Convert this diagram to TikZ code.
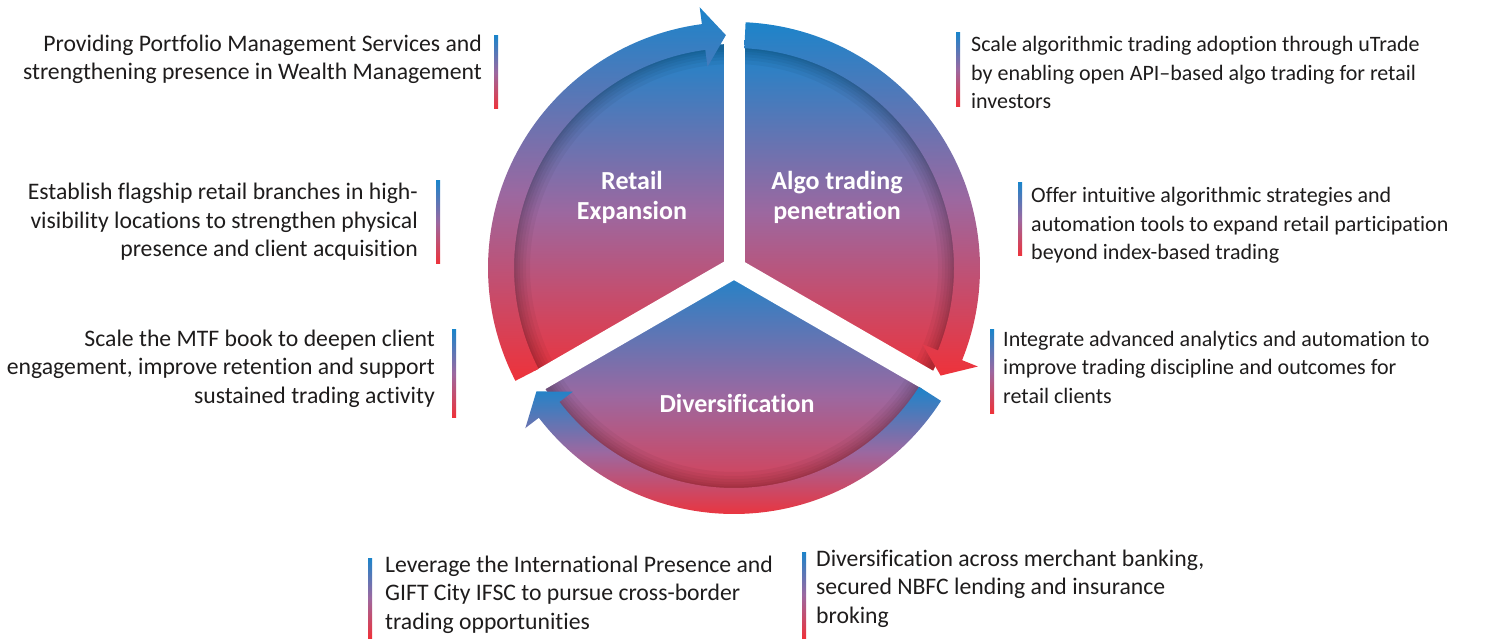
\documentclass[tikz,border=0pt]{standalone}
\usepackage{fontspec}
\setmainfont{Carlito}[Ligatures=NoCommon]
\definecolor{bl}{RGB}{28,132,202}
\definecolor{md}{RGB}{156,104,160}
\definecolor{rd}{RGB}{238,50,58}
\definecolor{ink}{RGB}{30,28,28}
\newcommand\RingArrow[3]{%
  \shade[grad] (#1:246) arc[start angle=#1, end angle=#3, radius=246]
    -- (#3:263) -- (#2:233) -- (#3:203) -- (#3:220)
    arc[start angle=#3, end angle=#1, radius=220] -- cycle;}
\newcommand\SectorPath[2]{(0,0) -- (#1:224) arc[start angle=#1, end angle=#2, radius=224] -- cycle}
\begin{document}
\begin{tikzpicture}[x=1pt,y=1pt,
  grad/.style={top color=bl, bottom color=rd, middle color=md},
  bodyL/.style={font=\fontsize{23.7}{28.5}\selectfont, text=ink, inner sep=0pt},
  bodyR/.style={font=\fontsize{22}{28.5}\selectfont, text=ink, inner sep=0pt},
  lbl/.style={font=\bfseries\fontsize{26}{30}\selectfont, text=white, align=center, inner sep=0pt},
  gapline/.style={white, line width=21},
  rim/.style={black, opacity=0.045}]
\useasboundingbox (0,0) rectangle (1510,638);
\begin{scope}[shift={(734,370)}]
  % sectors
  \foreach \a/\b in {90/210, 210/330, -30/90}{
    \shade[grad] \SectorPath{\a}{\b};
    \begin{scope}
      \clip \SectorPath{\a}{\b};
      \foreach \w in {40,32,26,20,15,11}{
        \draw[rim, line width=\w] (0,0) circle[radius=224];}
    \end{scope}
  }
  % gaps
  \foreach \a in {90,210,330}{ \draw[gapline] (0,0) -- (\a:235); }
  \fill[white] (0,0) circle[radius=11];
  % ring arrows
  \RingArrow{207.3}{92}{97.5}
  \RingArrow{87.3}{-27.5}{-22}
  \RingArrow{-32.7}{-148}{-142.5}
\end{scope}
% sector labels
\node[lbl] (retail) at (632,441) {Retail\\Expansion};
\node[lbl] (algo) at (837,441) {Algo trading\\penetration};
\node[lbl] (div) at (737,235) {Diversification};
% left texts (anchored at last baseline)
\node[bodyL, align=right, anchor=base east] (l1) at (482,558) {Providing Portfolio Management Services and\\strengthening presence in Wealth Management};
\node[bodyL, align=right, anchor=base east] (l2) at (418,381) {Establish flagship retail branches in high-\\visibility locations to strengthen physical\\presence and client acquisition};
\node[bodyL, align=right, anchor=base east] (l3) at (435,235) {Scale the MTF book to deepen client\\engagement, improve retention and support\\sustained trading activity};
% right texts
\node[bodyR, align=left, anchor=base west] (r1) at (971,529) {Scale algorithmic trading adoption through uTrade\\by enabling open API–based algo trading for retail\\investors};
\node[bodyR, align=left, anchor=base west] (r2) at (1031,378) {Offer intuitive algorithmic strategies and\\automation tools to expand retail participation\\beyond index-based trading};
\node[bodyR, align=left, anchor=base west] (r3) at (1003,235) {Integrate advanced analytics and automation to\\improve trading discipline and outcomes for\\retail clients};
% bottom texts
\node[bodyL, align=left, anchor=base west] (b1) at (385,9) {Leverage the International Presence and\\GIFT City IFSC to pursue cross-border\\trading opportunities};
\node[bodyL, align=left, anchor=base west] (b2) at (816,15) {Diversification across merchant banking,\\secured NBFC lending and insurance\\broking};
% bars
\shade[grad] (494,529) rectangle (498,602);
\shade[grad] (436,374) rectangle (440,457);
\shade[grad] (452,221) rectangle (456,308);
\shade[grad] (956,531) rectangle (960,605);
\shade[grad] (1018,382) rectangle (1022,455);
\shade[grad] (990,225) rectangle (994,308);
\shade[grad] (368,0) rectangle (372,80);
\shade[grad] (802,0) rectangle (806,86);
\end{tikzpicture}
\end{document}
